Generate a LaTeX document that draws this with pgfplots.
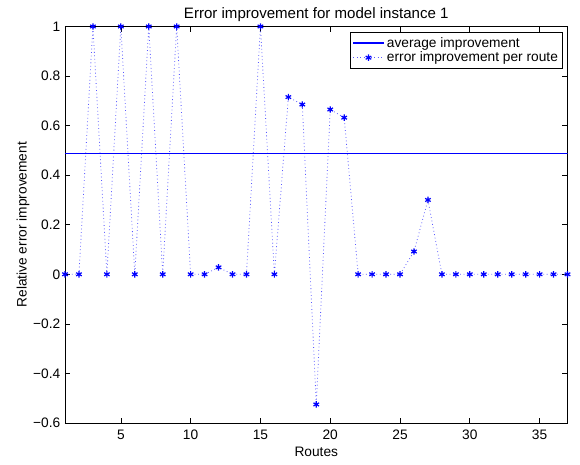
\documentclass[border=0pt]{standalone}
\usepackage{fontspec}
\setmainfont{Liberation Sans}
\usepackage{pgfplots}
\pgfplotsset{compat=1.18}
\definecolor{mblue}{rgb}{0,0,1}

\begin{document}
\begin{tikzpicture}[x=0.75pt,y=0.75pt]
\begin{axis}[
    scale only axis, width=376.9pt, height=297.4pt,
    xmin=1, xmax=37, ymin=-0.6, ymax=1,
    xtick={5,10,...,35},
    ytick={-0.6,-0.4,...,1.01},
    yticklabels={−0.6,−0.4,−0.2,0,0.2,0.4,0.6,0.8,1},
    /pgf/number format/assume math mode=true,
    tick align=inside, major tick length=4pt,
    tick style={black, line width=0.5pt},
    axis line style={line width=0.6pt},
    font=\fontsize{10.3}{12}\selectfont,
    title={Error improvement for model instance 1},
    title style={yshift=-6pt, font=\fontsize{11.3}{13}\selectfont},
    xlabel={Routes}, ylabel={Relative error improvement},
    xticklabel style={yshift=-2pt},
    xlabel style={yshift=2pt}, ylabel style={yshift=-4pt},
    legend style={at={(0.991,0.986)}, anchor=north east, draw=black,
        line width=0.6pt, inner sep=1.5pt, row sep=-2pt,
        font=\fontsize{10.3}{11}\selectfont, cells={anchor=west}},
    legend cell align=left, reverse legend,
    legend image code/.code={\draw[#1] (0cm,0cm) -- (0.8cm,0cm);
        \draw[#1, only marks] plot coordinates {(0.4cm,0cm)};},
]
\addplot[color=mblue!65, dotted, line width=0.6pt, mark=asterisk, mark size=2.4pt,
    mark options={solid, mblue, line width=0.9pt}] coordinates {
(1,0) (2,0) (3,1) (4,0) (5,1) (6,0) (7,1) (8,0) (9,1) (10,0)
(11,0) (12,0.028) (13,0) (14,0) (15,1) (16,0) (17,0.715) (18,0.685) (19,-0.525) (20,0.665)
(21,0.632) (22,0) (23,0) (24,0) (25,0) (26,0.092) (27,0.30) (28,0) (29,0) (30,0)
(31,0) (32,0) (33,0) (34,0) (35,0) (36,0) (37,0)};
\addlegendentry{error improvement per route}
\addplot[color=mblue, solid, line width=1pt, mark=none]
    coordinates {(1,0.488) (37,0.488)};
\addlegendentry{average improvement}
\end{axis}
\pgfresetboundingbox
\path[use as bounding box] (-65,-41) rectangle (515,423);
\end{tikzpicture}
\end{document}
